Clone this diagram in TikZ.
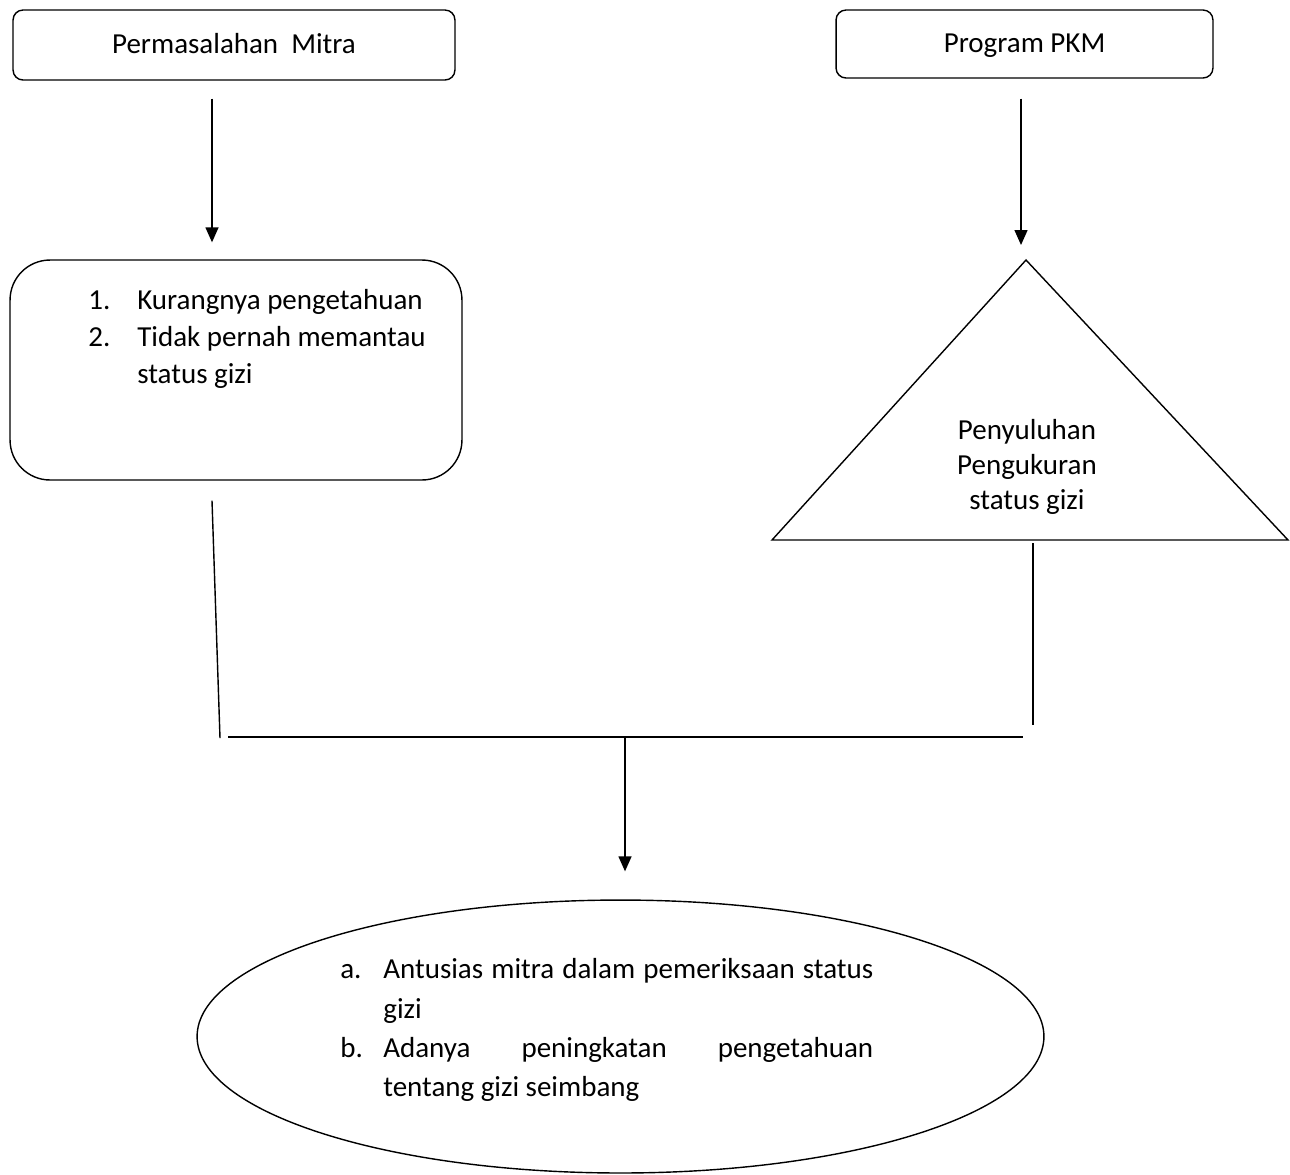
\documentclass[tikz,border=0pt]{standalone}
\usepackage{fontspec}
\setmainfont{Carlito}
\usepackage{tikz}
\usetikzlibrary{arrows.meta,shapes.geometric,positioning}

\begin{document}
\begin{tikzpicture}[x=0.02cm, y=-0.02cm]
\tikzset{
    box/.style={rectangle, draw, rounded corners=0.2cm, line width=0.8pt, inner sep=0pt, text height=0.4cm, text depth=0.08cm},
    bigbox/.style={rectangle, draw, rounded corners=0.8cm, line width=0.8pt, inner sep=0pt},
    oval/.style={ellipse, draw, line width=0.8pt, inner sep=0pt},
    txt/.style={font=\fontsize{16.5}{20.8}\selectfont, inner sep=0pt},
    ln/.style={line width=0.8pt},
    arr/.style={line width=0.8pt, -{Triangle[length=0.3cm, width=0.26cm]}}
}
\useasboundingbox (0,0) rectangle (1290,1174);

% --- nodes ---
\node[box, minimum width=8.84cm, minimum height=1.4cm, txt] (mitra) at (234,45) {Permasalahan\ \ Mitra};
\node[box, minimum width=7.54cm, minimum height=1.36cm, txt] (pkm) at (1024.5,44) {Program PKM};

\node[bigbox, minimum width=9.04cm, minimum height=4.4cm] (masalah) at (236,370) {};
\node[txt, anchor=north west] (masalahtxt) at (88,284) {%
\begin{tabular}{@{}p{0.98cm}@{}l@{}}
1. & Kurangnya pengetahuan\\
2. & Tidak pernah memantau\\
   & status gizi
\end{tabular}};

\coordinate (tapex) at (1026,260);
\coordinate (tleft) at (772,540);
\coordinate (tright) at (1288,540);
\draw[ln] (tapex) -- (tleft) -- (tright) -- cycle;
\node[txt, align=center, font=\fontsize{16.5}{19.9}\selectfont] (kegiatan) at (1027,467) {Penyuluhan\\Pengukuran\\status gizi};

\node[oval, minimum width=16.94cm, minimum height=5.46cm] (hasil) at (620.5,1036.5) {};
\node[txt, anchor=north west, font=\fontsize{16.5}{22.4}\selectfont] (hasiltxt) at (340,951) {%
\begin{tabular}{@{}p{0.86cm}@{}p{9.8cm}@{}}
a. & Antusias mitra dalam pemeriksaan status\linebreak gizi\\
b. & Adanya peningkatan pengetahuan\linebreak tentang gizi seimbang
\end{tabular}};

% --- connectors ---
\coordinate (a1) at ([shift={(-22,18)}]mitra.south);
\draw[arr, shorten >=0.34cm] (a1) -- (a1 |- masalah.north);
\coordinate (a2) at ([shift={(-3.5,20)}]pkm.south);
\draw[arr, shorten >=0.3cm] (a2) -- (a2 |- tapex);

\coordinate (l1) at ([shift={(-24,20)}]masalah.south);
\coordinate (l2) at (220,738);
\draw[ln] (l1) -- (l2);
\coordinate (r1) at (1033,543);
\coordinate (r2) at (1033,725);
\draw[ln] (r1) -- (r2);

\coordinate (jl) at (228,737);
\coordinate (jr) at (1023,737);
\coordinate (jm) at (625,737);
\draw[ln] (jl) -- (jr);
\draw[arr, shorten >=0.56cm] (jm) -- (jm |- hasil.north);
\end{tikzpicture}
\end{document}
